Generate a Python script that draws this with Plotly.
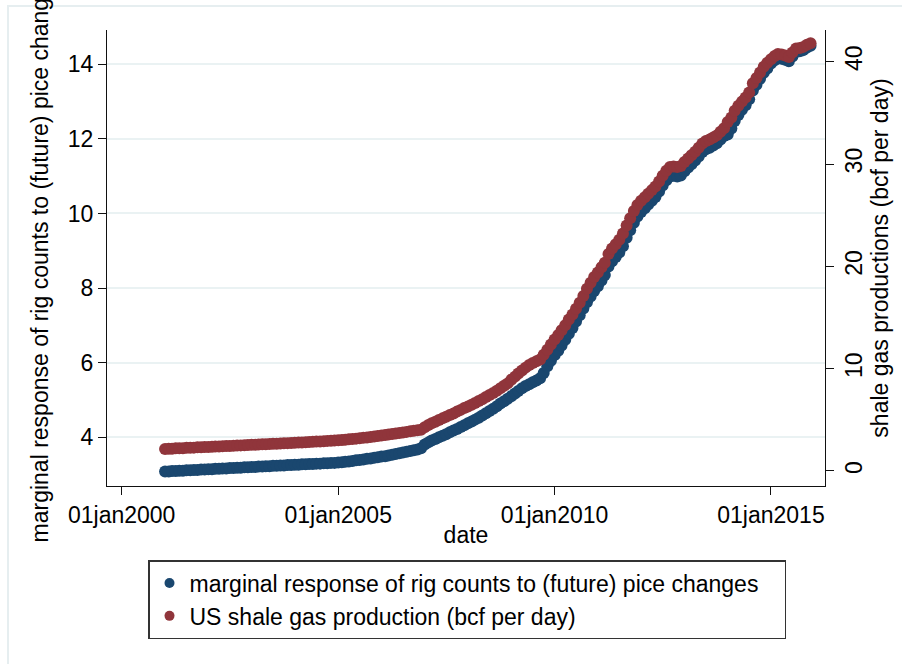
import pandas as pd
import plotly.graph_objects as go

# Monthly observations, Jan 2001 - Dec 2015
dates = pd.date_range("2001-01-01", periods=180, freq="MS")

# Marginal response of rig counts to (future) price changes (left axis)
marginal_response = [
    3.08, 3.08, 3.09, 3.09, 3.10, 3.10, 3.11, 3.11, 3.12, 3.12, 3.13, 3.13,  # 2001
    3.14, 3.14, 3.15, 3.15, 3.16, 3.16, 3.17, 3.17, 3.18, 3.18, 3.19, 3.19,  # 2002
    3.20, 3.20, 3.21, 3.21, 3.22, 3.22, 3.23, 3.23, 3.24, 3.24, 3.25, 3.25,  # 2003
    3.26, 3.26, 3.27, 3.27, 3.28, 3.28, 3.29, 3.29, 3.30, 3.30, 3.31, 3.31,  # 2004
    3.32, 3.33, 3.34, 3.35, 3.36, 3.38, 3.39, 3.40, 3.42, 3.43, 3.45, 3.46,  # 2005
    3.48, 3.49, 3.51, 3.53, 3.55, 3.57, 3.59, 3.61, 3.63, 3.65, 3.67, 3.70,  # 2006
    3.80, 3.86, 3.91, 3.95, 4.00, 4.04, 4.08, 4.13, 4.18, 4.22, 4.27, 4.32,  # 2007
    4.37, 4.42, 4.47, 4.52, 4.58, 4.64, 4.70, 4.76, 4.83, 4.90, 4.96, 5.03,  # 2008
    5.10, 5.17, 5.24, 5.31, 5.37, 5.42, 5.47, 5.52, 5.58, 5.72, 5.90, 6.05,  # 2009
    6.20, 6.32, 6.46, 6.61, 6.77, 6.93, 7.10, 7.27, 7.45, 7.62, 7.77, 7.92,  # 2010
    8.05, 8.20, 8.35, 8.58, 8.72, 8.83, 8.95, 9.12, 9.35, 9.55, 9.75, 9.92,  # 2011
    10.04, 10.14, 10.24, 10.34, 10.44, 10.59, 10.75, 10.89, 10.99, 11.01, 10.99, 11.02,  # 2012
    11.13, 11.23, 11.32, 11.42, 11.53, 11.65, 11.72, 11.76, 11.82, 11.88, 11.98, 12.08,  # 2013
    12.12, 12.28, 12.48, 12.64, 12.78, 12.90, 13.06, 13.30, 13.45, 13.61, 13.77, 13.89,  # 2014
    14.02, 14.11, 14.17, 14.15, 14.12, 14.08, 14.21, 14.33, 14.35, 14.38, 14.45, 14.50,  # 2015
]

# US shale gas production, bcf per day (right axis)
shale_gas = [
    2.15, 2.16, 2.18, 2.21, 2.22, 2.23, 2.26, 2.27, 2.28, 2.31, 2.32, 2.34,  # 2001
    2.35, 2.37, 2.38, 2.40, 2.41, 2.44, 2.45, 2.46, 2.49, 2.50, 2.52, 2.53,  # 2002
    2.55, 2.57, 2.58, 2.60, 2.62, 2.63, 2.66, 2.67, 2.69, 2.70, 2.72, 2.74,  # 2003
    2.75, 2.77, 2.79, 2.80, 2.83, 2.85, 2.87, 2.89, 2.91, 2.94, 2.96, 2.98,  # 2004
    3.00, 3.03, 3.06, 3.09, 3.13, 3.16, 3.20, 3.24, 3.28, 3.33, 3.37, 3.41,  # 2005
    3.47, 3.52, 3.57, 3.62, 3.67, 3.72, 3.77, 3.82, 3.87, 3.92, 3.97, 4.02,  # 2006
    4.28, 4.50, 4.66, 4.82, 4.98, 5.14, 5.30, 5.46, 5.62, 5.80, 5.97, 6.15,  # 2007
    6.30, 6.48, 6.65, 6.83, 7.02, 7.22, 7.42, 7.63, 7.85, 8.08, 8.32, 8.56,  # 2008
    8.92, 9.22, 9.52, 9.82, 10.10, 10.35, 10.55, 10.72, 10.90, 11.35, 11.85, 12.35,  # 2009
    12.85, 13.30, 13.75, 14.25, 14.80, 15.30, 15.85, 16.45, 17.10, 17.80, 18.40, 18.95,  # 2010
    19.40, 19.90, 20.35, 21.20, 21.75, 22.15, 22.60, 23.20, 24.00, 24.70, 25.40, 26.00,  # 2011
    26.40, 26.75, 27.10, 27.45, 27.80, 28.30, 28.85, 29.35, 29.70, 29.75, 29.70, 29.80,  # 2012
    30.20, 30.55, 30.85, 31.20, 31.60, 32.00, 32.25, 32.40, 32.60, 32.80, 33.15, 33.50,  # 2013
    34.10, 34.55, 35.20, 35.70, 36.10, 36.50, 37.00, 37.90, 38.40, 38.95, 39.50, 39.90,  # 2014
    40.25, 40.55, 40.75, 40.70, 40.60, 40.45, 40.90, 41.30, 41.35, 41.45, 41.65, 41.80,  # 2015
]

x_tick_dates = ["2000-01-01", "2005-01-01", "2010-01-01", "2015-01-01"]
x_tick_labels = ["01jan2000", "01jan2005", "01jan2010", "01jan2015"]
left_ticks = [4, 6, 8, 10, 12, 14]
right_ticks = [0, 10, 20, 30, 40]

name_left = "marginal response of rig counts to (future) pice changes"
name_right = "US shale gas production (bcf per day)"

NAVY = "#1a476f"
MAROON = "#90353b"
FONT = "Liberation Sans, Arial, sans-serif"
FS = 23

W, H = 902, 664
L, R, T, B = 107, 77, 30, 178
pw, ph = W - L - R, H - T - B

fig = go.Figure()

fig.add_trace(go.Scatter(
    x=dates, y=marginal_response, mode="markers", yaxis="y",
    marker=dict(color=NAVY, size=12, line=dict(width=0)),
    name=name_left, showlegend=False,
))
fig.add_trace(go.Scatter(
    x=dates, y=shale_gas, mode="markers", yaxis="y2",
    marker=dict(color=MAROON, size=12, line=dict(width=0)),
    name=name_right, showlegend=False,
))
# legend entries with smaller symbols
for nm, col in [(name_left, NAVY), (name_right, MAROON)]:
    fig.add_trace(go.Scatter(
        x=[None], y=[None], mode="markers", name=nm,
        marker=dict(color=col, size=10), showlegend=True,
    ))

def px_x(p):
    return (p - L) / pw

def px_y(p):
    return (H - B - p) / ph

fig.update_layout(
    width=W, height=H,
    margin=dict(l=L, r=R, t=T, b=B),
    paper_bgcolor="white", plot_bgcolor="white",
    font=dict(family=FONT, size=FS, color="#000"),
    xaxis=dict(
        type="date",
        range=["1999-08-30", "2016-04-01"],
        tickvals=x_tick_dates, ticktext=x_tick_labels,
        ticks="outside", ticklen=8, tickwidth=1, tickcolor="#111",
        showline=True, linecolor="#111", linewidth=1,
        showgrid=False, zeroline=False,
        title=dict(text="date", font=dict(size=FS), standoff=0),
    ),
    yaxis=dict(
        range=[2.69, 14.92],
        tickvals=left_ticks,
        ticks="outside", ticklen=8, tickwidth=1, tickcolor="#111",
        showline=True, linecolor="#111", linewidth=1,
        showgrid=True, gridcolor="#eaf2f3", gridwidth=1.5,
        zeroline=False,
        title=dict(text=name_left, font=dict(size=FS), standoff=12),
    ),
    yaxis2=dict(
        range=[-1.47, 43.1],
        overlaying="y", side="right",
        tickvals=right_ticks, tickangle=-90,
        ticks="outside", ticklen=8, tickwidth=1, tickcolor="#111",
        showline=True, linecolor="#111", linewidth=1,
        showgrid=False, zeroline=False,
        title=dict(text="shale gas productions (bcf per day)", font=dict(size=FS), standoff=2),
    ),
    legend=dict(
        orientation="h",
        x=px_x(148), xanchor="left",
        y=px_y(560), yanchor="top",
        bordercolor="#333", borderwidth=1.5,
        bgcolor="white",
        font=dict(size=FS),
        tracegroupgap=0,
        entrywidth=590, entrywidthmode="pixels",
    ),
    shapes=[dict(
        type="rect", xref="paper", yref="paper",
        x0=px_x(8), x1=px_x(910), y0=px_y(680), y1=px_y(6),
        line=dict(color="#e6eef0", width=2), fillcolor="rgba(0,0,0,0)",
        layer="below",
    )],
)

fig.write_html("out.html")
